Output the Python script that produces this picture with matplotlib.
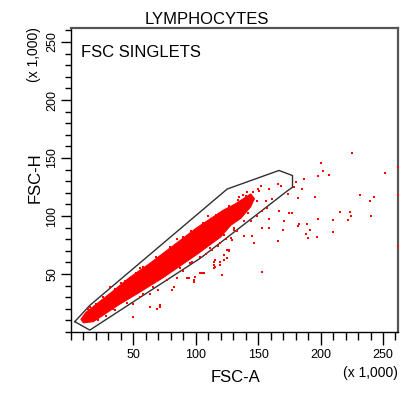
import matplotlib
matplotlib.use("Agg")
import matplotlib.pyplot as plt
from matplotlib.ticker import MultipleLocator

plt.rcParams['font.family'] = ['Liberation Sans', 'DejaVu Sans']

# dense core of the population (outline, FSC-A / FSC-H x 1000)
core_x = [8, 12, 31, 47, 63, 74, 101, 122, 131, 144, 147, 144, 136, 128, 120, 101, 74, 53, 39, 18, 10]
core_y = [11, 17, 33, 47, 59, 68, 90, 105, 110, 119, 115, 108, 98, 92, 82, 67, 47, 33, 24, 9, 8]

# scattered events
pts_x = [225.3, 200.3, 201.7, 206.5, 198.2, 186.4, 180.4, 179.1, 185, 181.6, 195.7, 251.3, 231.2,
         239.5, 243, 177, 215.9, 223.9, 224.2, 221.8, 240.6, 210, 198.2, 182.9, 181.6, 188.8,
         191.2, 188.5, 190, 196.9, 210, 262, 262, 262,
         152, 150.6, 158.7, 165.5, 168.1, 173.5, 156, 149.4, 161.4, 157.4, 153.4, 149.4, 158.7,
         144, 153.4, 158.7, 170.8, 169.5, 174.8, 145.3, 138.6, 146.6, 165.5, 125.2, 122.5, 125.2,
         114.4, 119.8, 153.4, 121.2, 114.4, 129.2, 133.3, 137.3, 166.7,
         103.7, 98.3, 93, 82.2, 80.9, 63.4, 71.5, 68.8, 50, 115.8, 94.3, 99.7, 98.3, 106.4,
         122.5, 115.8, 126.5,
         103.7, 111.8, 119.8, 122.5, 127.9, 114.4, 95.7, 87.6, 79.5, 71.5, 63.4, 84.9, 105,
         119.8, 126.5, 130.5, 133.3,
         42, 50, 55.4, 25.8, 33.9, 20.5, 63.4, 70.1, 71.5,
         31.2, 15.1, 40, 55, 85, 110, 138, 146, 141, 135, 150,
         14, 20, 26, 35, 43, 52, 58, 68, 79, 90, 96, 106, 116, 127, 134, 140,
         22, 28, 35, 45, 58, 66, 77, 90, 97, 108, 113, 118, 124, 131, 139, 142]
pts_y = [154.7, 146, 138.4, 135.8, 134.4, 132, 129.4, 125.3, 123, 115.2, 116.6, 137, 117.8,
         112.8, 116.6, 102.6, 103.8, 103.8, 99.7, 96.2, 99.7, 96.2, 97.4, 93.4, 91, 93.4,
         88.4, 84.3, 80.8, 82, 86, 142.2, 118.3, 74.4,
         126.2, 121.8, 123.3, 127.7, 126.2, 118.9, 113.1, 113.1, 114.6, 107.3, 104.4, 100, 97.1,
         95.6, 89.9, 89.9, 95.6, 88.4, 103, 82.5, 82.5, 76.8, 78.2, 70.9, 66.6, 63.7,
         57.9, 60.7, 52, 49.1, 55, 79.7, 86.9, 100, 104.4,
         50.6, 44.8, 46.2, 38.9, 36, 21.5, 23, 20.1, 12.7, 56.4, 46.2, 47.6, 42.8, 50.6,
         62.2, 62.2, 70.9,
         65.1, 72.4, 76.8, 84, 81.2, 60.7, 59.3, 55, 52, 46.2, 49.1, 46.2, 50.6,
         57.9, 69.5, 89.9, 98.6,
         27.3, 24.4, 30.2, 15.7, 20.1, 12.7, 33.2, 36, 21.5,
         38.9, 21.5, 42, 55, 80, 100, 118, 121, 121, 116, 123,
         20, 24, 30, 37, 44, 51, 56, 65, 73, 82, 87, 94, 101, 109, 114, 117,
         10, 14, 19, 25, 33, 39, 45, 53, 60, 67, 71, 74, 80, 88, 96, 103]

# FSC singlets gate
gate_x = [3.1, 15.1, 125.2, 166.7, 177.5, 177.5, 173.5, 103.7, 15.1, 3.1]
gate_y = [9.0, 23.0, 123.3, 139.3, 134.9, 124.8, 121.8, 63.7, 1.7, 9.0]

fig = plt.figure(figsize=(4.03, 3.93), dpi=100)
ax = fig.add_axes((0.176, 0.155, 0.812, 0.774))

ax.fill(core_x, core_y, color='#ff0000', linewidth=0.8, edgecolor='#ff0000')
ax.scatter(pts_x, pts_y, s=3, marker='s', color='#ff0000', linewidths=0, clip_on=False, zorder=3)
ax.plot(gate_x, gate_y, color='#303030', linewidth=1.0)

ax.set_xlim(0, 262.144)
ax.set_ylim(0, 262.144)

ax.xaxis.set_minor_locator(MultipleLocator(10))
ax.yaxis.set_minor_locator(MultipleLocator(10))
ax.set_xticks([50, 100, 150, 200, 250])
ax.set_yticks([50, 100, 150, 200, 250])
ax.tick_params(axis='x', which='major', length=9.5, width=1, pad=3, labelsize=9)
ax.tick_params(axis='x', which='minor', length=6, width=1)
ax.tick_params(axis='y', which='major', length=7, width=1, pad=2, labelsize=9, labelrotation=90)
ax.tick_params(axis='y', which='minor', length=4, width=1)
for lab in ax.get_yticklabels():
    lab.set_va('center')

for s in ['left', 'bottom']:
    ax.spines[s].set_color('black')
    ax.spines[s].set_linewidth(1)
for s in ['top', 'right']:
    ax.spines[s].set_color('#555555')
    ax.spines[s].set_linewidth(1.6)

ax.text(0.03, 0.92, 'FSC SINGLETS', transform=ax.transAxes, fontsize=12, va='center', ha='left')

fig.text(207 / 403, 1 - 19 / 393, 'LYMPHOCYTES', fontsize=12, ha='center', va='center')
fig.text(236 / 403, 1 - 377 / 393, 'FSC-A', fontsize=12, ha='center', va='center')
fig.text(398 / 403, 1 - 373 / 393, '(x 1,000)', fontsize=10, ha='right', va='center')
fig.text(35 / 403, 1 - 178 / 393, 'FSC-H', fontsize=12, ha='center', va='center', rotation=90)
fig.text(34 / 403, 1 - 55 / 393, '(x 1,000)', fontsize=10, ha='center', va='center', rotation=90)

fig.savefig('out.png', dpi=100)
